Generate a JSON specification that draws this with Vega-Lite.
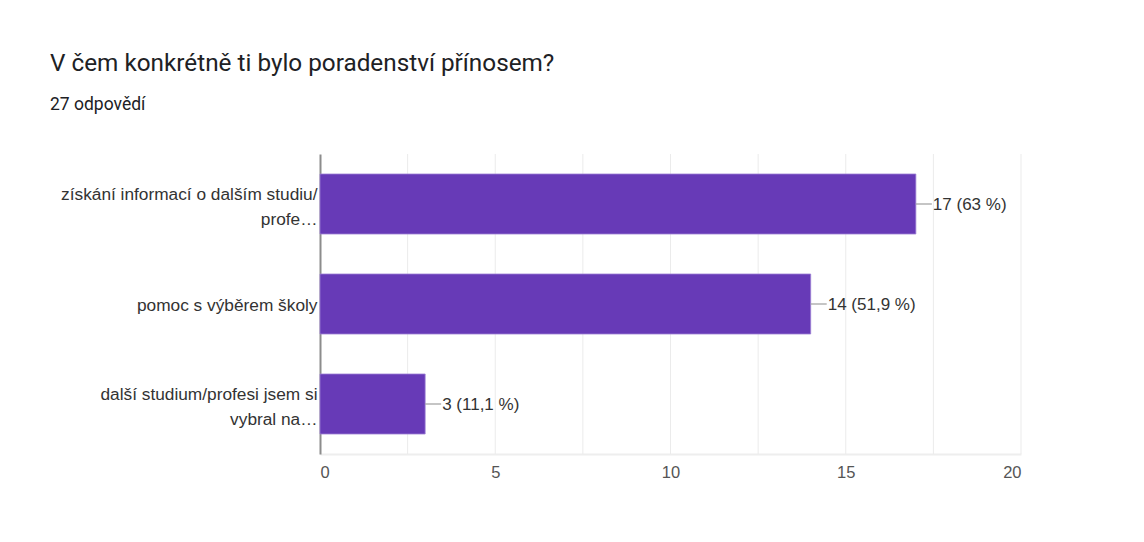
{
  "$schema": "https://vega.github.io/schema/vega-lite/v6.json",
  "autosize": "none",
  "width": 701,
  "height": 300,
  "padding": {"left": 320, "top": 154, "right": 123, "bottom": 88},
  "background": "white",
  "title": {
    "text": "V čem konkrétně ti bylo poradenství přínosem?",
    "subtitle": "27 odpovědí",
    "anchor": "start",
    "frame": "group",
    "dx": -270,
    "offset": 40,
    "font": "Roboto",
    "fontSize": 24.3,
    "fontWeight": "normal",
    "color": "#202124",
    "subtitleFont": "Roboto",
    "subtitleFontSize": 17.5,
    "subtitleColor": "#202124",
    "subtitlePadding": 20
  },
  "data": {
    "values": [
      {"odpoved": "získání informací o dalším studiu/\nprofe…", "pocet": 17, "popisek": "17 (63 %)"},
      {"odpoved": "pomoc s výběrem školy", "pocet": 14, "popisek": "14 (51,9 %)"},
      {"odpoved": "další studium/profesi jsem si\nvybral na…", "pocet": 3, "popisek": "3 (11,1 %)"}
    ]
  },
  "encoding": {
    "y": {
      "field": "odpoved",
      "type": "nominal",
      "sort": null,
      "scale": {"paddingInner": 0.4, "paddingOuter": 0.2},
      "axis": {
        "title": null,
        "labelExpr": "split(datum.label, '\\n')",
        "labelFont": "Liberation Sans",
        "labelFontSize": 17.3,
        "labelColor": "#333333",
        "labelLineHeight": 25,
        "labelLimit": 300,
        "labelPadding": 3,
        "labelOffset": {"condition": {"test": "indexof(datum.value, '\\n') >= 0", "value": -9}, "value": 2},
        "ticks": false,
        "domainColor": "#8c8c8c",
        "domainWidth": 2,
        "grid": false
      }
    }
  },
  "layer": [
    {
      "mark": {"type": "rule", "color": "#ebebeb", "strokeWidth": 1},
      "data": {"values": [{"g": 2.5}, {"g": 5}, {"g": 7.5}, {"g": 10}, {"g": 12.5}, {"g": 15}, {"g": 17.5}, {"g": 20}]},
      "encoding": {
        "x": {"field": "g", "type": "quantitative", "scale": {"domain": [0, 20]}},
        "y": {"value": 0},
        "y2": {"value": 300}
      }
    },
    {
      "mark": {"type": "bar", "color": "#673ab7", "stroke": "#9c7fd3", "strokeWidth": 0.8},
      "encoding": {
        "x": {
          "field": "pocet",
          "type": "quantitative",
          "axis": {
            "title": null,
            "values": [0, 5, 10, 15, 20],
            "labelFont": "Liberation Sans",
            "labelFontSize": 16.5,
            "labelColor": "#555555",
            "labelPadding": 10,
            "ticks": false,
            "domainColor": "#eeeeee",
            "domainWidth": 2,
            "grid": false
          }
        }
      }
    },
    {
      "mark": {"type": "rule", "color": "#9e9e9e", "strokeWidth": 1.2, "x2Offset": 16},
      "encoding": {
        "x": {"field": "pocet", "type": "quantitative"},
        "x2": {"field": "pocet"}
      }
    },
    {
      "mark": {"type": "text", "align": "left", "baseline": "middle", "dx": 17, "dy": 1, "font": "Liberation Sans", "fontSize": 17, "color": "#333333"},
      "encoding": {
        "x": {"field": "pocet", "type": "quantitative"},
        "text": {"field": "popisek"}
      }
    }
  ],
  "config": {"view": {"stroke": null}}
}
